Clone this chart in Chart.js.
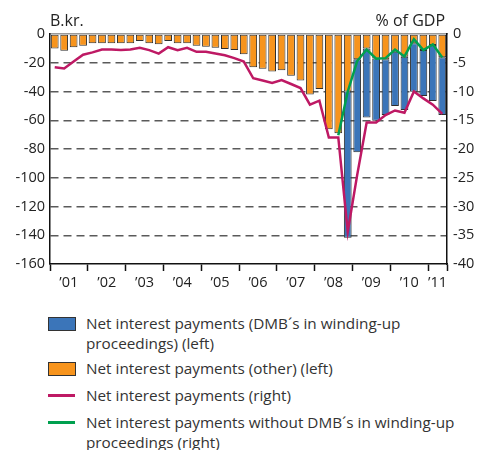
<!DOCTYPE html>
<html>
<head>
<meta charset="utf-8">
<script src="https://cdn.jsdelivr.net/npm/chart.js@4"></script>
<style>
    body { margin: 0; background: #fff; font-family: 'Open Sans', sans-serif; }
    #wrap { position: relative; width: 478px; height: 450px; }
    #box { position: absolute; left: 0; top: 0; width: 478px; height: 300px; }
    .item { position: absolute; left: 86px; font-size: 15.3px; line-height: 19.5px; color: #333; white-space: nowrap; }
    .swatch { position: absolute; left: -38px; top: 3px; width: 26px; height: 12px; border: 1px solid #333; }
    .stroke { position: absolute; left: -38px; top: 8px; width: 27px; height: 3px; }
</style>
</head>
<body>
<div id="wrap">
    <div id="box"><canvas id="grafico"></canvas></div>
    <div class="item" style="top:314px"><span class="swatch" style="background:#3B75B9"></span>Net interest payments (DMB´s in winding-up<br>proceedings) (left)</div>
    <div class="item" style="top:359px"><span class="swatch" style="background:#F7941D"></span>Net interest payments (other) (left)</div>
    <div class="item" style="top:386px"><span class="stroke" style="background:#BE1964"></span>Net interest payments (right)</div>
    <div class="item" style="top:413px"><span class="stroke" style="background:#00A04F"></span>Net interest payments without DMB´s in winding-up<br>proceedings (right)</div>
</div>
<script>
// Quarters 2001 Q1 - 2011 Q2
const years = [2001, 2002, 2003, 2004, 2005, 2006, 2007, 2008, 2009, 2010, 2011];
const yearLabels = ['’01', '’02', '’03', '’04', '’05', '’06', '’07', '’08', '’09', '’10', '’11'];
const quarters = [];
years.forEach(y => {
    const n = y === 2011 ? 2 : 4;
    for (let q = 1; q <= n; q++) quarters.push(y + ' Q' + q);
});

// B.kr. (left axis)
const otherPayments = [
    -10.1, -11.6, -9.3, -8.1, -6.5, -6.5, -6.5, -6.5, -6.5, -4.9, -6.5, -7.2,
    -4.9, -6.5, -6.5, -8.1, -8.8, -9.5, -10.4, -11.1, -14.1, -23.2, -24.1, -26.1,
    -25.2, -29.0, -32.4, -42.1, -38.3, -66.2, -69.0, -40.0, -17.6, -10.0, -17.0, -17.6,
    -12.3, -15.8, -6.5, -11.1, -7.7, -16.2
];
const dmbPayments = [
    null, null, null, null, null, null, null, null, null, null, null, null,
    null, null, null, null, null, null, null, null, null, null, null, null,
    null, null, null, null, null, null, null, -101.7, -64.7, -48.0, -43.3, -38.7,
    -37.7, -37.1, -33.6, -32.0, -38.9, -40.1
];

// % of GDP (right axis)
const totalPctGdp = [
    -5.8, -6.0, -4.8, -3.6, -3.2, -2.7, -2.7, -2.8, -2.7, -2.4, -2.8, -3.4,
    -2.3, -2.8, -2.4, -3.1, -3.1, -3.4, -3.7, -4.2, -4.8, -7.7, -8.1, -8.5,
    -8.0, -8.7, -9.4, -12.3, -11.6, -18.0, -18.0, -34.4, -24.5, -15.4, -15.4, -14.1,
    -13.3, -13.7, -10.0, -11.2, -12.3, -13.9
];
const exDmbPctGdp = [
    null, null, null, null, null, null, null, null, null, null, null, null,
    null, null, null, null, null, null, null, null, null, null, null, null,
    null, null, null, null, null, null, -17.6, -10.0, -4.7, -2.7, -4.3, -4.2,
    -2.7, -3.9, -0.9, -2.8, -1.8, -4.1
];

Chart.defaults.font.family = "'Open Sans', sans-serif";
Chart.defaults.color = '#222';

// unit titles above both axes
const axisTitles = {
    id: 'axisTitles',
    afterDraw(chart) {
        const {ctx, chartArea} = chart;
        ctx.save();
        ctx.font = "16px 'Open Sans', sans-serif";
        ctx.fillStyle = '#222';
        ctx.textBaseline = 'alphabetic';
        ctx.textAlign = 'left';
        ctx.fillText('B.kr.', chartArea.left, 26);
        ctx.textAlign = 'right';
        ctx.fillText('% of GDP', chartArea.right - 2, 26);
        ctx.restore();
    }
};

const ctx = document.getElementById('grafico').getContext('2d');
new Chart(ctx, {
    type: 'bar',
    data: {
        labels: quarters,
        datasets: [
            {
                type: 'line',
                label: 'Net interest payments without DMB´s in winding-up proceedings (right)',
                data: exDmbPctGdp,
                yAxisID: 'y2',
                borderColor: '#00A04F',
                borderWidth: 2.5,
                pointRadius: 0,
                order: 0
            },
            {
                type: 'line',
                label: 'Net interest payments (right)',
                data: totalPctGdp,
                yAxisID: 'y2',
                borderColor: '#BE1964',
                borderWidth: 2.5,
                pointRadius: 0,
                order: 1
            },
            {
                label: 'Net interest payments (other) (left)',
                data: otherPayments,
                yAxisID: 'y',
                backgroundColor: '#F7941D',
                borderColor: '#2e2e2e',
                borderWidth: 1,
                borderSkipped: false,
                categoryPercentage: 1,
                barPercentage: 0.82,
                order: 2
            },
            {
                label: 'Net interest payments (DMB´s in winding-up proceedings) (left)',
                data: dmbPayments,
                yAxisID: 'y',
                backgroundColor: '#3B75B9',
                borderColor: '#2e2e2e',
                borderWidth: 1,
                borderSkipped: false,
                categoryPercentage: 1,
                barPercentage: 0.82,
                order: 2
            }
        ]
    },
    options: {
        responsive: true,
        maintainAspectRatio: false,
        animation: false,
        layout: { padding: { top: 34, left: 0, right: 0, bottom: 0 } },
        plugins: {
            legend: { display: false },
            tooltip: { enabled: false }
        },
        scales: {
            x: {
                stacked: true,
                offset: true,
                grid: {
                    offset: true,
                    drawOnChartArea: false,
                    tickLength: 7,
                    tickWidth: 1.5,
                    tickColor: c => (c.index === undefined || c.index % 4 === 0) ? '#111' : 'transparent'
                },
                border: { color: '#111', width: 1.5 },
                ticks: {
                    autoSkip: false,
                    maxRotation: 0,
                    padding: 3,
                    labelOffset: 4.7,
                    font: { size: 14.5 },
                    callback: (v, i) => {
                        if (i === 40) return yearLabels[10];
                        if (i % 4 === 1 && i < 40) return yearLabels[(i - 1) / 4];
                        return '';
                    }
                },
                afterFit: s => { s.height = 36; }
            },
            top: {
                position: 'top',
                grid: { drawOnChartArea: false, drawTicks: false },
                border: { color: '#999', width: 1.5 },
                ticks: { display: false },
                afterFit: s => { s.height = 0; }
            },
            y: {
                stacked: true,
                position: 'left',
                min: -160,
                max: 0,
                z: 1,
                grid: {
                    drawTicks: false,
                    lineWidth: 1.5,
                    color: c => (c.tick && (c.tick.value === 0 || c.tick.value === -160)) ? 'transparent' : '#5a5a5a'
                },
                border: { color: '#111', width: 1.5, dash: [8, 5] },
                ticks: { stepSize: 20, padding: 5, font: { size: 14.5 } },
                afterFit: s => { s.width = 50; }
            },
            y2: {
                position: 'right',
                min: -40,
                max: 0,
                grid: { drawOnChartArea: false, drawTicks: false },
                border: { color: '#111', width: 1.5 },
                ticks: { stepSize: 5, padding: 6, font: { size: 14.5 } },
                afterFit: s => { s.width = 31; }
            }
        }
    },
    plugins: [axisTitles]
});
</script>
</body>
</html>
